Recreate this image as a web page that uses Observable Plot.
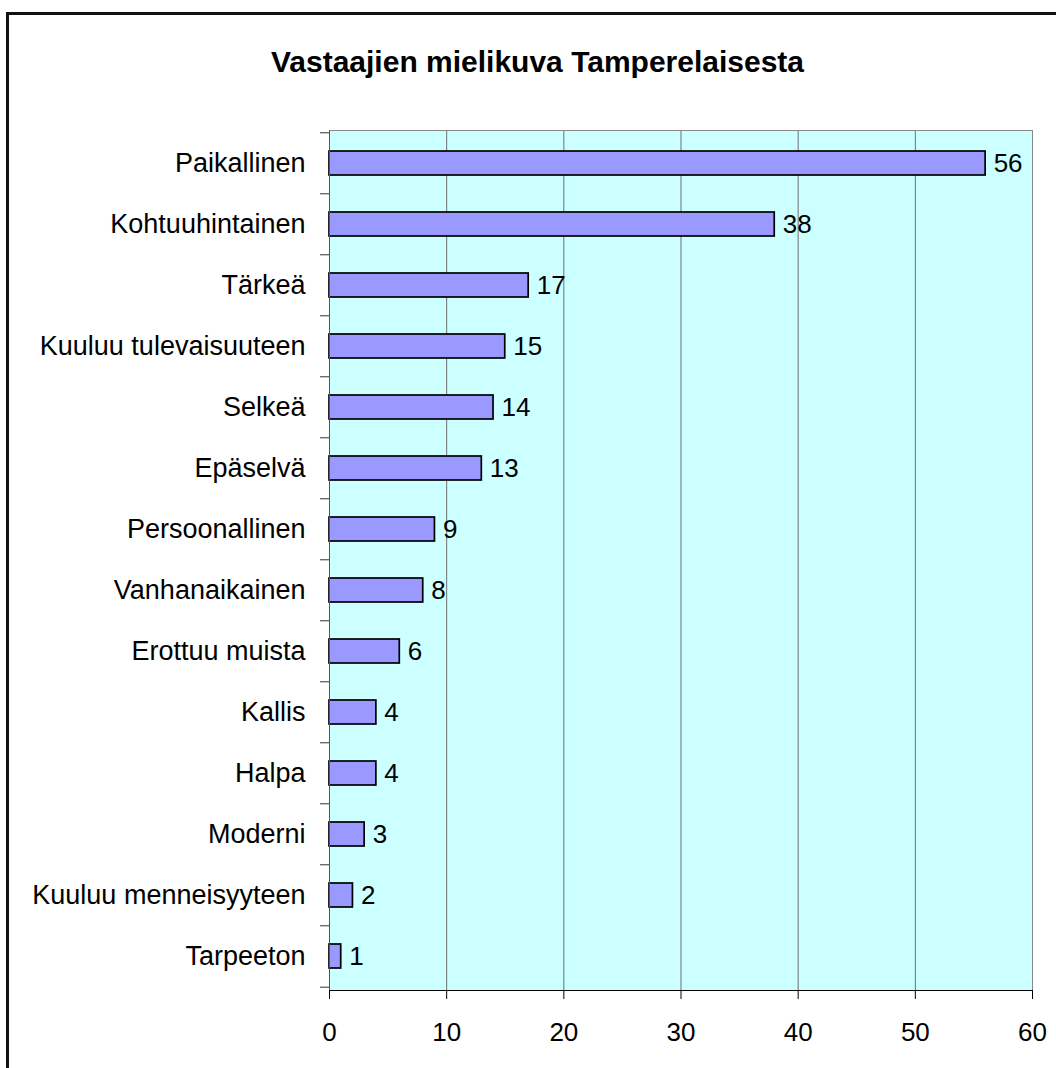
<!DOCTYPE html>
<html>
<head>
<meta charset="utf-8">
<script src="https://cdn.jsdelivr.net/npm/d3@7"></script>
<script src="https://cdn.jsdelivr.net/npm/@observablehq/plot@0.6"></script>
<style>
  html, body { margin: 0; padding: 0; background: #fff; }
  #wrap { position: relative; width: 1056px; height: 1068px; overflow: hidden; font-family: "Liberation Sans", Arial, sans-serif; }
  #border { position: absolute; left: 6px; top: 12px; width: 1200px; height: 1200px; border-left: 3px solid #111; border-top: 3px solid #111; }
  #title { position: absolute; left: 0; top: 47px; width: 1075px; text-align: center; font-size: 30px; line-height: 29px; font-weight: bold; color: #000; }
  #chart { position: absolute; left: 0; top: 0; }
</style>
</head>
<body>
<div id="wrap">
  <div id="border"></div>
  <div id="title">Vastaajien mielikuva Tamperelaisesta</div>
  <div id="chart"></div>
</div>
<script>
const categories = ["Paikallinen","Kohtuuhintainen","Tärkeä","Kuuluu tulevaisuuteen","Selkeä","Epäselvä","Persoonallinen","Vanhanaikainen","Erottuu muista","Kallis","Halpa","Moderni","Kuuluu menneisyyteen","Tarpeeton"];
const values = [56,38,17,15,14,13,9,8,6,4,4,3,2,1];
const xTicks = [0,10,20,30,40,50,60];

const data = categories.map((name, i) => ({name, value: values[i]}));

const W = 1056, H = 1068, mt = 130, mb = 78, ml = 329, mr = 24;
const step = (H - mt - mb) / categories.length;

const chart = Plot.plot({
  width: W, height: H,
  marginTop: mt, marginBottom: mb, marginLeft: ml, marginRight: mr,
  x: {domain: [0, 60]},
  y: {domain: categories, paddingInner: 0.6, paddingOuter: 0.3},
  style: {fontFamily: '"Liberation Sans", Arial, sans-serif', background: "transparent", color: "#000", overflow: "visible"},
  marks: [
    Plot.frame({fill: "#CCFFFF", stroke: null}),
    Plot.gridX(xTicks, {stroke: "#707070", strokeOpacity: 1}),
    Plot.frame({stroke: "#888"}),
    Plot.barX(data, {x: "value", y: "name", fill: "#9999FF", stroke: "#000", strokeWidth: 1.7}),
    Plot.text(data, {x: "value", y: "name", text: d => String(d.value), textAnchor: "start", dx: 8, fontSize: 26, fill: "#000"}),
    Plot.frame({anchor: "left", stroke: "#555"}),
    Plot.frame({anchor: "bottom", stroke: "#000"}),
    Plot.axisX(xTicks, {tickSize: 9, tickPadding: 23, fontSize: 26, label: null}),
    Plot.axisY({tickSize: 0, tickPadding: 24, fontSize: 27, label: null}),
    Plot.axisY(categories, {tickSize: 9, dy: -step / 2, text: null, label: null, stroke: "#333"}),
    Plot.axisY([categories[categories.length - 1]], {tickSize: 9, dy: step / 2, text: null, label: null, stroke: "#333"})
  ]
});
document.getElementById("chart").appendChild(chart);
</script>
</body>
</html>
